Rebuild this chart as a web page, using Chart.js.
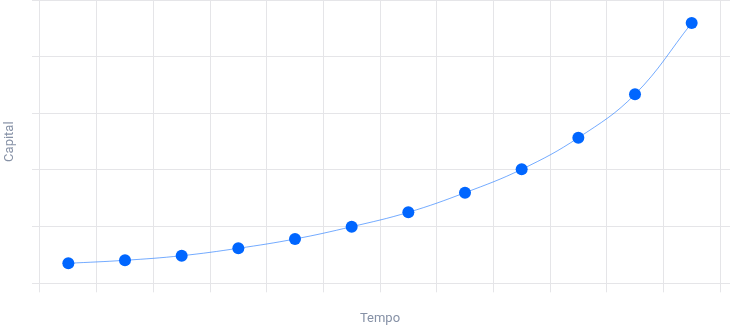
<!DOCTYPE html>
<html>
<head>
<meta charset="utf-8">
<script src="https://cdn.jsdelivr.net/npm/chart.js@4"></script>
<style>
    html, body { margin: 0; padding: 0; background: #fff; }
    #wrap { width: 730px; height: 325px; }
</style>
</head>
<body>
<div id="wrap"><canvas id="capitalChart"></canvas></div>
<script>
const periods = ['1', '2', '3', '4', '5', '6', '7', '8', '9', '10', '11', '12'];
const capital = [353, 406, 487, 618, 782, 999, 1253, 1599, 2012, 2569, 3335, 4593];
const yTicks = [0, 1000, 2000, 3000, 4000, 5000];

const gridColor = '#e5e5e8';
const titleColor = '#8691a6';

document.addEventListener('DOMContentLoaded', function() {
    const ctx = document.getElementById('capitalChart').getContext('2d');

    const config = {
        type: 'line',
        data: {
            labels: periods,
            datasets: [{
                label: 'Capital',
                data: capital,
                borderColor: 'rgba(0, 102, 255, 0.55)',
                borderWidth: 1,
                backgroundColor: '#0066ff',
                pointBackgroundColor: '#0066ff',
                pointBorderColor: '#0066ff',
                pointRadius: 6,
                pointBorderWidth: 0,
                tension: 0.4,
                fill: false
            }]
        },
        options: {
            responsive: true,
            maintainAspectRatio: false,
            animation: false,
            layout: { padding: 0, autoPadding: false },
            plugins: {
                legend: { display: false },
                tooltip: { enabled: false }
            },
            scales: {
                x: {
                    offset: true,
                    grid: { offset: true, color: gridColor, tickLength: 9 },
                    border: { display: false },
                    ticks: { display: false },
                    title: {
                        display: true,
                        text: 'Tempo',
                        color: titleColor,
                        font: { family: 'Roboto', size: 13 },
                        padding: { top: 4, bottom: -2 }
                    },
                    afterFit: function(scale) { scale.height = 41.7; }
                },
                y: {
                    min: 0,
                    max: 5000,
                    afterBuildTicks: function(scale) {
                        scale.ticks = yTicks.map(v => ({ value: v }));
                    },
                    grid: { color: gridColor, tickLength: 8 },
                    border: { display: false },
                    ticks: { display: false },
                    title: {
                        display: true,
                        text: 'Capital',
                        color: titleColor,
                        font: { family: 'Roboto', size: 13 },
                        padding: { top: 2, bottom: 4 }
                    },
                    afterFit: function(scale) { scale.width = 40; }
                },
                yRight: {
                    position: 'right',
                    min: 0,
                    max: 5000,
                    afterBuildTicks: function(scale) {
                        scale.ticks = yTicks.map(v => ({ value: v }));
                    },
                    grid: { color: gridColor, tickLength: 10, drawOnChartArea: false },
                    border: { display: false },
                    ticks: { display: false },
                    afterFit: function(scale) { scale.width = 10; }
                }
            }
        }
    };

    new Chart(ctx, config);
});
</script>
</body>
</html>
